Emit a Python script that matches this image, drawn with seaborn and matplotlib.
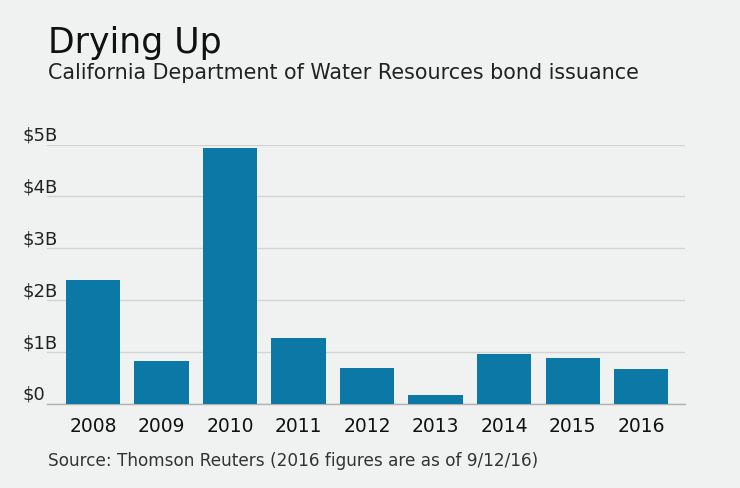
import matplotlib
matplotlib.use("Agg")
import matplotlib.pyplot as plt
import matplotlib.transforms as mtransforms
import seaborn as sns
import pandas as pd

years = ["2008", "2009", "2010", "2011", "2012", "2013", "2014", "2015", "2016"]
issuance_billion = [2.39, 0.82, 4.93, 1.27, 0.69, 0.17, 0.95, 0.87, 0.67]
y_ticks = [0, 1, 2, 3, 4, 5]
y_tick_labels = ["$0", "$1B", "$2B", "$3B", "$4B", "$5B"]

title = "Drying Up"
subtitle = "California Department of Water Resources bond issuance"
source = "Source: Thomson Reuters (2016 figures are as of 9/12/16)"

BG = "#f0f2f1"
BAR = "#0b78a6"

sns.set_theme(style="white")
plt.rcParams["font.family"] = ["DejaVu Sans"]

df = pd.DataFrame({"year": years, "value": issuance_billion})

fig = plt.figure(figsize=(7.4, 4.89), dpi=100, facecolor=BG)
ax = fig.add_axes([47 / 740, 1 - 404.5 / 489, (685 - 47) / 740, (404.5 - 145.5) / 489])
ax.set_facecolor(BG)

sns.barplot(data=df, x="year", y="value", color=BAR, width=0.79, saturation=1,
            linewidth=0, ax=ax, zorder=3)

ax.set_ylim(0, 5)
ax.set_xlim(-0.67, 8.64)
ax.set_yticks(y_ticks)
ax.set_yticklabels(y_tick_labels)
ax.set_xlabel("")
ax.set_ylabel("")
ax.yaxis.grid(True, color="#d2d4d4", linewidth=1, zorder=0)
ax.xaxis.grid(False)
for s in ["top", "right", "left"]:
    ax.spines[s].set_visible(False)
ax.spines["bottom"].set_color("#b0b2b2")
ax.spines["bottom"].set_linewidth(1)

ax.tick_params(axis="y", length=0, pad=18, labelsize=13, labelcolor="#222222")
ax.tick_params(axis="x", length=0, pad=9, labelsize=13.5, labelcolor="#111111")
offset = mtransforms.ScaledTranslation(0, 11.5 / 100, fig.dpi_scale_trans)
for lab in ax.get_yticklabels():
    lab.set_horizontalalignment("left")
    lab.set_transform(lab.get_transform() + offset)

fig.text(48 / 740, 1 - 53 / 489, title, fontsize=25, color="#111111", ha="left", va="baseline")
fig.text(48 / 740, 1 - 79 / 489, subtitle, fontsize=14.9, color="#222222", ha="left", va="baseline")
fig.text(48 / 740, 1 - 466 / 489, source, fontsize=12.2, color="#333333", ha="left", va="baseline")

fig.savefig("out.png", dpi=100, facecolor=BG)
